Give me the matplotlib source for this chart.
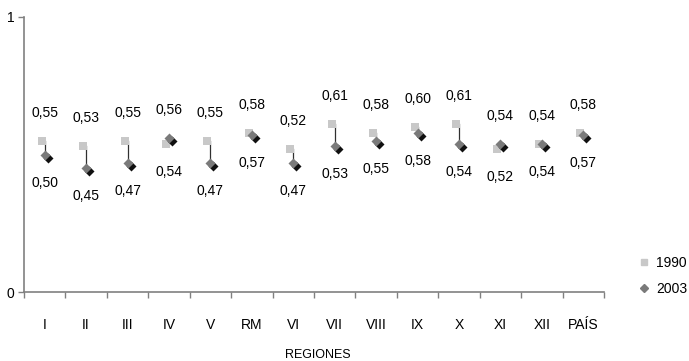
import matplotlib.pyplot as plt
from matplotlib.transforms import offset_copy
from matplotlib.lines import Line2D

plt.rcParams['font.family'] = ['Liberation Sans', 'DejaVu Sans']

regiones = ['I', 'II', 'III', 'IV', 'V', 'RM', 'VI', 'VII', 'VIII', 'IX', 'X', 'XI', 'XII', 'PAÍS']
v1990 = [0.55, 0.53, 0.55, 0.54, 0.55, 0.58, 0.52, 0.61, 0.58, 0.60, 0.61, 0.52, 0.54, 0.58]
v2003 = [0.50, 0.45, 0.47, 0.56, 0.47, 0.57, 0.47, 0.53, 0.55, 0.58, 0.54, 0.54, 0.54, 0.57]

fig = plt.figure(figsize=(6.89, 3.61), dpi=100)
ax = fig.add_axes([0.0348, 0.191, 0.8418, 0.762])

x = list(range(len(regiones)))

# linea entre los dos anos
for xi, a, b in zip(x, v1990, v2003):
    ax.plot([xi, xi], [a, b], color='#303030', lw=0.9, zorder=1)

sq_tr = offset_copy(ax.transData, fig=fig, x=-3, y=0, units='dots')
ax.scatter(x, v1990, marker='s', s=30, color='#c8c8c8', linewidths=0,
           transform=sq_tr, zorder=2)

sh_tr = offset_copy(ax.transData, fig=fig, x=3, y=-3, units='dots')
ax.scatter(x, v2003, marker='D', s=26, color='#101010', linewidths=0,
           transform=sh_tr, zorder=3)
ax.scatter(x, v2003, marker='D', s=26, color='#7a7a7a', linewidths=0, zorder=4)

for xi, a, b in zip(x, v1990, v2003):
    hi, lo = max(a, b), min(a, b)
    ax.annotate(f'{hi:.2f}'.replace('.', ','), (xi, hi), xytext=(0, 28),
                textcoords='offset pixels', ha='center', va='center', fontsize=10)
    ax.annotate(f'{lo:.2f}'.replace('.', ','), (xi, lo), xytext=(0, -28),
                textcoords='offset pixels', ha='center', va='center', fontsize=10)

ax.set_xlim(-0.5, len(regiones) - 0.5)
ax.set_ylim(0, 1)
ax.set_yticks([0, 1])
ax.set_yticklabels(['0', '1'], fontsize=10)
ax.set_xticks([i - 0.5 for i in range(len(regiones) + 1)])
ax.set_xticklabels([])
ax.set_xticks(x, minor=True)
ax.set_xticklabels(regiones, minor=True, fontsize=10)
ax.tick_params(axis='x', which='minor', length=0, pad=19)
ax.tick_params(axis='both', which='major', length=4, color='#808080', width=1)
ax.tick_params(axis='y', pad=3)
ax.spines['top'].set_visible(False)
ax.spines['right'].set_visible(False)
for s in ['left', 'bottom']:
    ax.spines[s].set_color('#808080')
    ax.spines[s].set_linewidth(1.2)

fig.text(318 / 689, 1 - 355 / 361, 'REGIONES', ha='center', va='center', fontsize=9)

handles = [Line2D([], [], marker='s', ls='', color='#c8c8c8', markersize=5),
           Line2D([], [], marker='D', ls='', color='#7a7a7a', markersize=4.5)]
fig.legend(handles, ['1990', '2003'], loc='center left', frameon=False,
           bbox_to_anchor=(638 / 689, 1 - 276 / 361), fontsize=10,
           borderpad=0, borderaxespad=0, handletextpad=0.5,
           labelspacing=0.9, handlelength=0.8)

fig.savefig('out.png', dpi=100)
